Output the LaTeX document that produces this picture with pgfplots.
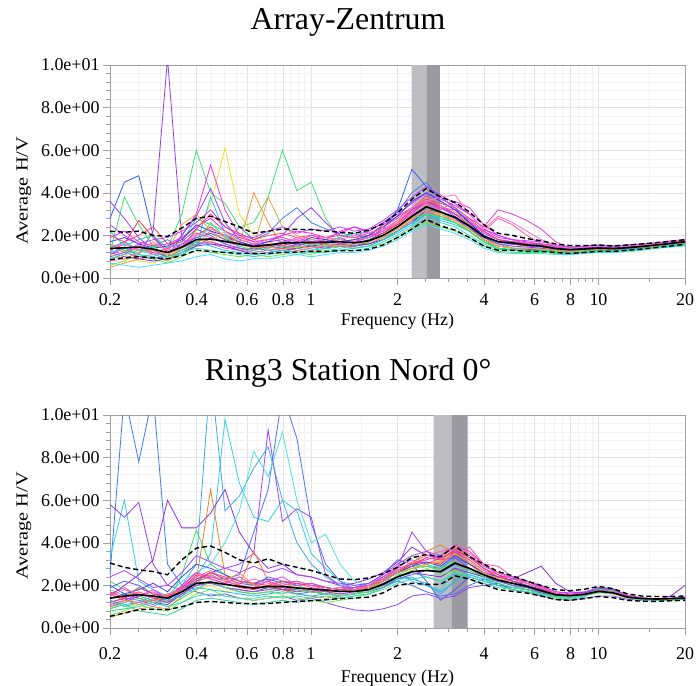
\documentclass[border=0pt]{standalone}
\usepackage{pgfplots}
\pgfplotsset{compat=1.18}
\usepackage{pgfplotstable}
\usepackage{graphicx}
\usepackage{fontspec}
\setmainfont{Liberation Serif}

\definecolor{cA1}{HTML}{9040F0}\definecolor{cA2}{HTML}{40E070}\definecolor{cA3}{HTML}{E8E020}
\definecolor{cA4}{HTML}{FF30E0}\definecolor{cA5}{HTML}{3060FF}\definecolor{cA6}{HTML}{20C8E8}
\definecolor{cA7}{HTML}{FF8A30}\definecolor{cA8}{HTML}{FF3050}\definecolor{cA9}{HTML}{A040FF}
\definecolor{cA10}{HTML}{E040C0}\definecolor{cA11}{HTML}{60F040}\definecolor{cA12}{HTML}{4080E0}
\definecolor{cA13}{HTML}{FF60A0}\definecolor{cA14}{HTML}{20D0B0}\definecolor{cA15}{HTML}{7030E0}
\definecolor{cA16}{HTML}{FF20FF}\definecolor{cA17}{HTML}{40E0FF}\definecolor{cA18}{HTML}{F0A040}
\definecolor{cA19}{HTML}{FF40F0}\definecolor{cA20}{HTML}{8050FF}\definecolor{cA21}{HTML}{2040FF}
\definecolor{cA22}{HTML}{00D8F0}\definecolor{cA23}{HTML}{30E850}\definecolor{cA24}{HTML}{FF4070}
\definecolor{cA25}{HTML}{FFA030}\definecolor{cA26}{HTML}{C040FF}\definecolor{cA27}{HTML}{40D8C0}
\definecolor{cA28}{HTML}{FF70D0}
\definecolor{cB1}{HTML}{3A7FF0}\definecolor{cB2}{HTML}{30D0E8}\definecolor{cB3}{HTML}{9040F0}
\definecolor{cB4}{HTML}{8A30E8}\definecolor{cB5}{HTML}{A040FF}\definecolor{cB6}{HTML}{4F70F0}
\definecolor{cB7}{HTML}{40A8F0}\definecolor{cB8}{HTML}{50E0E0}\definecolor{cB9}{HTML}{F08030}
\definecolor{cB10}{HTML}{40E060}\definecolor{cB11}{HTML}{E8E030}\definecolor{cB12}{HTML}{FF30E0}
\definecolor{cB13}{HTML}{FF5090}\definecolor{cB14}{HTML}{7A30D0}\definecolor{cB15}{HTML}{30D0A0}
\definecolor{cB16}{HTML}{FF3050}\definecolor{cB17}{HTML}{70F040}\definecolor{cB18}{HTML}{5060E8}
\definecolor{cB19}{HTML}{F040E0}\definecolor{cB20}{HTML}{9050F0}\definecolor{cB21}{HTML}{3050F0}
\definecolor{cB22}{HTML}{20C0E0}\definecolor{cB23}{HTML}{50E070}\definecolor{cB24}{HTML}{FF4060}
\definecolor{cB25}{HTML}{FF9040}\definecolor{cB26}{HTML}{B040FF}\definecolor{cB27}{HTML}{30D8C0}
\definecolor{cB28}{HTML}{FF60B0}
\definecolor{bandlight}{RGB}{190,190,194}
\definecolor{banddark}{RGB}{155,154,160}
\definecolor{framegray}{RGB}{160,160,160}

\pgfplotstableread{
name k0 k1 k2 k3 k4 k5 k6 k7 k8 k9 k10 k11 k12 k13 k14 k15 k16 k17 k18 k19 k20 k21 k22 k23 k24 k25 k26 k27 k28 k29 k30 k31 k32 k33 k34 k35 k36 k37 k38 k39 k40
f 0.2 0.2244 0.2518 0.2825 0.3170 0.3557 0.3991 0.4477 0.5024 0.5637 0.6325  0.7096 0.7962 0.8934 1.0024 1.1247 1.2619 1.4159 1.5887 1.7825 2.0  2.2440 2.5179 2.8251 3.1698 3.5566 3.9905 4.4774 5.0238 5.6368 6.3246  7.0963 7.9621 8.9337 10.024 11.247 12.619 14.159 15.887 17.825 20.0
M 1.38 1.42 1.45 1.35 1.20 1.45 1.80 1.83 1.72 1.60 1.48  1.55 1.64 1.66 1.67 1.68 1.70 1.65 1.75 2.00 2.40  2.90 3.35 3.10 2.85 2.45 1.95 1.70 1.65 1.55 1.50  1.38 1.33 1.36 1.40 1.38 1.42 1.48 1.55 1.62 1.70
U 2.20 2.15 2.20 2.00 1.95 2.35 2.80 2.90 2.65 2.40 2.10  2.20 2.30 2.28 2.27 2.20 2.15 2.10 2.25 2.55 3.05  3.70 4.20 3.80 3.55 3.10 2.50 2.10 2.00 1.85 1.75  1.60 1.52 1.52 1.55 1.50 1.55 1.60 1.66 1.72 1.80
L 0.86 0.95 1.00 0.95 0.90 1.05 1.30 1.25 1.20 1.15 1.15  1.15 1.20 1.22 1.25 1.25 1.28 1.28 1.35 1.55 1.90  2.30 2.75 2.45 2.25 1.90 1.50 1.30 1.30 1.25 1.25  1.20 1.15 1.20 1.25 1.25 1.30 1.36 1.43 1.50 1.58
A1 1.6 1.3 1.1 2.2 10.3 1.8 1.5 1.9 1.6 1.4 1.3  1.5 1.7 1.8 1.6 1.7 1.9 1.6 1.8 2.1 2.6  3.2 3.6 3.3 2.9 2.4 1.9 1.6 1.6 1.5 1.45  1.35 1.3 1.35 1.4 1.35 1.4 1.45 1.55 1.6 1.7
A2 1.2 3.8 2.5 1.5 1.4 3.0 6.0 4.0 3.5 2.4 2.6  3.8 6.0 4.1 4.5 2.8 1.8 1.7 1.6 1.9 2.2  2.6 3.0 2.8 2.6 2.2 1.7 1.4 1.3 1.3 1.35  1.25 1.2 1.25 1.3 1.3 1.35 1.4 1.5 1.55 1.65
A3 0.9 1.1 0.8 0.7 1.0 1.4 2.2 3.5 6.1 3.0 2.0  1.7 1.5 1.4 1.5 1.5 1.6 1.5 1.7 2.0 2.3  2.9 3.3 2.9 2.6 2.3 1.8 1.5 1.5 1.4 1.4  1.3 1.25 1.3 1.35 1.35 1.4 1.45 1.5 1.6 1.65
A4 1.5 1.2 1.6 1.1 1.3 2.0 3.0 5.3 3.2 2.0 1.7  1.8 1.9 1.7 2.0 1.8 2.2 2.4 2.1 2.3 2.5  3.0 3.6 3.2 3.6 3.3 2.5 2.0 1.8 1.6 1.5  1.4 1.3 1.35 1.45 1.4 1.45 1.5 1.6 1.65 1.75
A5 2.8 4.5 4.8 2.0 1.2 1.6 1.9 1.7 1.5 1.3 1.4  1.3 1.4 1.5 1.7 1.6 1.6 1.7 1.9 2.3 3.2  5.1 4.3 3.8 3.3 2.6 2.2 1.8 1.7 1.6 1.55  1.45 1.4 1.45 1.5 1.45 1.5 1.55 1.6 1.65 1.7
A6 1.0 0.9 1.2 1.4 0.9 1.1 1.5 3.8 2.1 1.4 1.2  1.3 1.2 1.4 1.3 1.5 1.4 1.5 1.6 1.8 2.1  2.5 3.0 2.7 2.5 2.2 1.7 1.4 1.3 1.3 1.3  1.2 1.2 1.25 1.3 1.3 1.35 1.4 1.5 1.55 1.6
A7 0.5 0.7 0.9 1.0 0.8 1.2 1.6 2.2 1.8 1.6 4.0  2.6 1.5 1.3 1.2 1.4 1.5 1.4 1.5 1.8 2.2  2.7 3.4 3.0 2.7 2.3 1.8 1.4 1.3 1.3 1.3  1.2 1.15 1.2 1.3 1.3 1.35 1.4 1.5 1.6 1.65
A8 1.3 1.6 2.7 1.9 1.2 1.5 2.0 2.4 1.9 1.7 1.5  1.6 1.5 1.7 1.6 1.8 1.7 1.8 1.9 2.1 2.5  3.1 3.6 3.4 3.0 2.6 2.0 1.7 1.6 1.5 1.5  1.4 1.35 1.4 1.45 1.4 1.45 1.5 1.55 1.65 1.7
A9 3.6 2.8 1.9 1.3 1.0 2.0 2.9 4.2 2.6 1.8 1.6  1.7 2.0 2.8 3.3 2.6 2.0 1.9 2.0 2.5 2.9  3.3 3.8 3.4 3.0 2.5 2.0 1.7 1.6 1.55 1.5  1.4 1.35 1.4 1.45 1.4 1.45 1.5 1.55 1.6 1.7
A10 1.1 1.4 1.3 1.2 1.0 1.3 1.6 1.7 1.5 1.4 1.3  1.5 1.6 1.5 1.7 1.6 1.8 1.7 2.0 2.2 2.6  3.2 3.9 3.3 3.0 2.8 2.4 3.2 3.0 2.7 2.3  1.7 1.4 1.4 1.45 1.4 1.5 1.55 1.6 1.65 1.75
A11 0.6 0.8 1.1 0.9 0.7 1.0 1.3 1.2 1.1 1.0 1.1  1.0 1.1 1.2 1.1 1.3 1.3 1.4 1.5 1.6 1.9  2.3 2.6 2.4 2.2 1.9 1.5 1.25 1.2 1.2 1.2  1.15 1.1 1.15 1.2 1.2 1.25 1.3 1.4 1.45 1.55
A12 1.4 1.7 1.3 1.5 1.8 1.4 2.3 2.0 1.6 2.4 1.8  2.1 2.8 3.3 2.6 2.3 2.1 2.0 2.2 2.6 3.1  4.0 4.5 3.6 3.2 2.7 2.1 1.8 1.7 1.6 1.6  1.5 1.45 1.5 1.55 1.5 1.55 1.6 1.65 1.7 1.75
A13 0.8 0.9 1.0 1.1 1.2 1.4 1.7 1.6 1.4 1.3 1.2  1.3 1.4 1.3 1.4 1.5 1.6 1.5 1.6 1.9 2.3  2.7 3.1 2.9 2.7 2.6 2.2 2.8 2.5 2.0 1.6  1.3 1.25 1.3 1.35 1.35 1.4 1.45 1.5 1.6 1.7
A14 2.2 1.5 1.8 2.0 1.4 1.7 2.8 2.5 2.2 1.8 1.6  1.4 1.7 1.6 1.8 1.7 1.9 2.1 1.8 2.0 2.4  2.8 3.2 3.0 2.8 2.4 1.9 1.6 1.4 1.4 1.35  1.25 1.25 1.3 1.35 1.35 1.4 1.45 1.55 1.6 1.65
A15 1.2 1.0 0.9 0.8 0.9 1.2 1.5 1.6 1.5 1.3 1.1  1.2 1.3 1.4 1.5 1.6 1.5 1.5 1.6 1.8 2.2  2.6 3.2 3.1 2.8 2.4 1.8 1.5 1.4 1.35 1.3  1.2 1.15 1.2 1.3 1.3 1.35 1.4 1.5 1.55 1.6
A16 1.9 2.2 1.7 1.5 1.6 1.9 2.4 2.8 2.2 1.9 1.7  1.8 2.0 2.2 2.1 1.9 2.1 2.4 2.2 2.6 3.0  3.5 4.0 3.7 3.4 3.0 2.3 1.9 1.8 1.7 1.6  1.5 1.4 1.45 1.5 1.45 1.5 1.55 1.6 1.7 1.8
A17 0.7 0.6 0.5 0.6 0.7 0.8 1.0 1.1 0.9 0.8 0.9  0.9 1.0 1.1 1.0 1.1 1.2 1.2 1.3 1.5 1.8  2.2 2.5 2.3 2.1 1.8 1.4 1.2 1.15 1.15 1.15  1.1 1.1 1.15 1.2 1.2 1.25 1.3 1.4 1.45 1.5
A18 1.6 1.2 1.4 1.6 1.3 2.5 3.0 2.2 1.8 2.0 1.5  3.8 2.4 2.0 1.8 1.9 1.7 1.8 1.9 2.2 2.6  3.3 3.8 3.4 3.1 2.5 1.9 1.5 1.4 1.4 1.4  1.3 1.3 1.35 1.4 1.4 1.45 1.5 1.55 1.6 1.7
A19 1.3 1.1 1.5 1.2 1.4 1.6 2.1 1.9 1.7 1.5 1.6  1.4 1.6 1.9 1.7 1.8 1.6 1.7 1.9 2.2 2.7  3.1 3.5 3.3 3.2 2.7 2.1 1.8 1.6 1.6 1.5  1.45 1.35 1.4 1.5 1.45 1.5 1.5 1.6 1.7 1.75
A20 1.0 1.2 1.0 0.9 1.1 1.5 1.9 2.1 1.8 1.6 1.4  1.5 1.4 1.6 1.5 1.4 1.6 1.5 1.7 2.0 2.4  2.8 3.3 3.1 2.8 2.3 1.9 1.6 1.5 1.45 1.4  1.3 1.3 1.3 1.35 1.35 1.4 1.45 1.5 1.6 1.65
A21 1.7 1.9 1.6 1.4 1.5 1.8 2.5 2.2 2.0 1.7 1.5  1.7 1.8 1.6 1.9 1.8 1.7 1.8 2.0 2.4 2.9  3.6 4.0 3.6 3.2 2.6 2.0 1.7 1.6 1.55 1.5  1.4 1.35 1.4 1.45 1.45 1.45 1.5 1.55 1.65 1.7
A22 1.2 1.4 1.1 1.0 1.2 1.3 1.7 1.5 1.3 1.2 1.1  1.2 1.3 1.2 1.3 1.4 1.3 1.4 1.5 1.8 2.2  2.6 3.0 2.8 2.6 2.2 1.7 1.4 1.35 1.3 1.3  1.25 1.2 1.25 1.3 1.3 1.35 1.4 1.45 1.55 1.6
A23 1.5 1.3 1.2 1.5 1.0 1.2 1.6 2.6 1.9 1.5 1.3  1.4 1.5 1.4 1.6 1.5 1.5 1.6 1.7 2.0 2.4  2.8 3.0 2.9 2.6 2.2 1.7 1.4 1.3 1.3 1.3  1.25 1.2 1.25 1.3 1.3 1.3 1.35 1.45 1.5 1.6
A24 2.0 1.7 2.0 2.4 1.6 1.7 2.3 3.0 2.4 2.1 1.8  2.0 2.1 1.9 2.0 1.9 2.0 1.9 2.1 2.4 2.8  3.3 3.7 3.5 3.3 2.8 2.2 1.8 1.7 1.65 1.6  1.5 1.4 1.45 1.5 1.5 1.5 1.55 1.6 1.7 1.75
A25 1.1 0.9 1.2 1.3 1.1 1.4 1.8 1.7 2.2 1.6 1.4  1.5 1.3 1.5 1.4 1.6 1.5 1.6 1.7 1.9 2.3  2.8 3.2 3.0 2.7 2.3 1.8 1.5 1.4 1.4 1.35  1.3 1.25 1.3 1.35 1.35 1.4 1.45 1.5 1.6 1.65
A26 2.5 2.0 1.6 1.8 1.9 2.2 2.6 3.2 2.4 2.0 1.9  2.2 2.4 2.1 2.3 2.2 2.4 2.2 2.3 2.7 3.2  3.8 4.3 3.9 3.5 3.0 2.3 2.0 1.8 1.75 1.7  1.55 1.45 1.5 1.55 1.5 1.55 1.6 1.65 1.75 1.8
A27 0.9 1.1 1.3 1.1 0.9 1.2 1.4 1.3 1.2 1.1 1.0  1.1 1.2 1.1 1.2 1.2 1.3 1.3 1.4 1.7 2.0  2.4 2.8 2.6 2.4 2.0 1.6 1.35 1.3 1.25 1.25  1.2 1.15 1.2 1.25 1.25 1.3 1.35 1.45 1.5 1.55
A28 1.4 1.6 1.3 1.7 1.3 1.5 2.0 2.3 2.0 1.8 1.6  1.8 1.7 1.8 1.7 1.9 1.8 2.0 2.1 2.3 2.7  3.3 3.6 3.8 3.9 3.0 2.3 2.9 2.6 2.2 1.8  1.5 1.4 1.45 1.5 1.45 1.5 1.55 1.6 1.7 1.8
}\rawA

\pgfplotstableread{
name k0 k1 k2 k3 k4 k5 k6 k7 k8 k9 k10 k11 k12 k13 k14 k15 k16 k17 k18 k19 k20 k21 k22 k23 k24 k25 k26 k27 k28 k29 k30 k31 k32 k33 k34 k35 k36 k37 k38 k39 k40
f 0.2 0.2244 0.2518 0.2825 0.3170 0.3557 0.3991 0.4477 0.5024 0.5637 0.6325  0.7096 0.7962 0.8934 1.0024 1.1247 1.2619 1.4159 1.5887 1.7825 2.0  2.2440 2.5179 2.8251 3.1698 3.5566 3.9905 4.4774 5.0238 5.6368 6.3246  7.0963 7.9621 8.9337 10.024 11.247 12.619 14.159 15.887 17.825 20.0
M 1.40 1.50 1.56 1.50 1.40 1.70 2.10 2.15 2.05 1.95 1.87  1.95 1.95 1.88 1.83 1.78 1.72 1.72 1.80 2.05 2.40  2.65 2.70 2.65 3.05 2.80 2.50 2.25 2.10 1.95 1.75  1.56 1.52 1.58 1.72 1.65 1.45 1.38 1.36 1.38 1.40
U 3.05 2.85 2.73 2.65 2.50 3.20 3.75 3.85 3.55 3.20 3.05  3.25 3.00 2.85 2.70 2.50 2.30 2.27 2.35 2.55 2.85  3.30 3.45 3.35 3.85 3.35 3.00 2.65 2.45 2.20 2.00  1.80 1.75 1.82 1.95 1.85 1.60 1.50 1.48 1.48 1.50
L 0.55 0.70 0.86 0.88 0.86 1.00 1.20 1.25 1.20 1.15 1.14  1.15 1.20 1.25 1.28 1.33 1.38 1.40 1.45 1.65 2.00  2.10 2.05 2.05 2.45 2.30 2.05 1.80 1.72 1.64 1.50  1.33 1.30 1.38 1.48 1.42 1.30 1.26 1.25 1.28 1.30
B1 2.5 11 7.8 11 3.0 2.0 1.8 2.2 1.9 1.7 1.6  1.7 1.8 1.6 1.7 1.6 1.8 1.9 2.0 2.3 2.7  3.0 2.9 2.8 3.3 3.0 2.6 2.3 2.1 1.9 1.7  1.5 1.5 1.6 1.8 1.7 1.45 1.35 1.35 1.38 1.4
B2 3.3 6.0 2.2 1.8 1.5 1.9 2.4 3.5 9.8 6.8 5.2  5.0 6.0 5.5 3.5 2.8 2.2 2.0 2.1 2.4 2.6  2.2 2.0 1.8 2.6 2.5 2.3 2.0 1.9 1.8 1.65  1.5 1.45 1.55 1.9 1.85 1.5 1.4 1.35 1.35 1.38
B3 5.8 5.2 5.9 3.0 2.0 1.8 1.7 1.5 1.6 1.4 1.3  1.4 1.5 1.3 1.4 1.2 1.0 0.85 0.8 0.9 1.1  1.5 1.6 1.4 1.5 1.9 2.0 2.1 1.8 1.7 1.5  1.35 1.3 1.4 1.5 1.5 1.35 1.3 1.3 1.32 1.35
B4 1.5 2.0 2.5 3.2 6.0 4.7 4.7 5.4 6.5 4.5 3.5  2.8 3.0 2.5 2.4 2.2 2.0 2.1 2.3 2.6 3.1  3.8 3.4 3.3 3.6 3.0 2.6 2.4 2.4 2.2 1.9  1.6 1.5 1.6 1.8 1.7 1.45 1.38 1.36 1.4 1.45
B5 1.2 1.4 1.3 1.1 1.5 1.9 2.3 2.6 2.8 3.0 3.5  9.3 5.0 5.6 5.2 2.5 2.0 1.8 2.0 2.3 2.8  4.5 3.6 3.2 3.3 2.8 2.4 2.2 2.1 2.0 1.8  1.55 1.5 1.55 1.7 1.65 1.45 1.38 1.35 1.38 1.42
B6 1.0 1.2 1.5 1.3 1.2 1.7 2.2 2.4 2.3 2.5 4.5  6.5 11 8.9 4.9 3.0 2.2 1.8 1.9 2.0 2.2  2.0 1.7 1.5 1.6 2.0 2.3 2.2 2.0 1.9 1.8  1.6 1.5 1.6 1.75 1.7 1.45 1.35 1.35 1.37 1.4
B7 1.3 1.1 1.2 1.0 1.4 2.0 3.0 12 5.5 6.2 7.5  8.5 6.0 4.0 3.0 2.4 2.0 1.9 2.0 2.2 2.4  2.3 2.1 1.6 2.2 2.8 2.5 2.2 2.0 1.8 1.7  1.5 1.45 1.55 1.75 1.7 1.45 1.35 1.33 1.35 1.38
B8 1.8 1.5 1.9 1.6 1.5 2.2 2.6 3.0 4.0 5.5 8.3  7.1 9.2 6.0 4.0 4.4 3.0 2.2 2.0 2.4 2.6  2.8 3.0 2.6 2.9 2.6 2.4 2.2 2.0 1.8 1.65  1.5 1.5 1.6 1.8 1.75 1.5 1.4 1.36 1.36 1.4
B9 0.5 0.7 0.9 1.0 0.9 1.5 2.2 6.5 2.5 2.0 3.6  2.2 1.8 1.6 1.5 1.4 1.5 1.6 1.9 2.3 2.6  3.0 3.6 3.9 3.5 3.0 2.5 2.3 2.1 1.9 1.7  1.5 1.45 1.55 1.7 1.65 1.45 1.35 1.32 1.34 1.38
B10 2.2 1.8 1.5 1.3 1.2 2.5 4.6 3.0 2.5 2.2 2.0  1.8 1.9 2.0 1.8 1.6 1.5 1.6 1.8 2.2 2.8  3.4 3.0 2.8 3.1 2.7 2.4 2.2 2.0 1.9 1.75  1.55 1.5 1.6 1.85 1.8 1.5 1.38 1.35 1.36 1.4
B11 0.8 0.9 1.2 1.5 1.2 1.4 1.8 2.0 1.7 1.8 1.6  1.7 1.9 1.8 1.7 1.6 1.7 1.8 1.9 2.1 2.4  2.7 3.0 3.2 3.9 3.2 2.6 2.3 2.1 1.9 1.7  1.5 1.5 1.55 1.7 1.65 1.45 1.35 1.33 1.35 1.38
B12 1.0 1.3 1.5 1.8 1.4 1.9 2.6 2.4 2.2 2.0 1.9  2.2 2.0 2.1 1.9 1.8 1.9 1.9 2.0 2.4 2.8  3.0 3.2 3.4 3.9 3.6 3.0 2.5 2.3 2.2 2.0  1.7 1.6 1.65 1.8 1.75 1.5 1.4 1.36 1.38 1.42
B13 1.6 1.3 1.2 1.3 1.5 1.8 2.3 2.5 2.2 2.0 1.9  2.0 1.8 1.9 1.7 1.8 1.7 1.8 1.9 2.2 2.6  2.9 3.3 3.2 3.4 3.8 3.0 2.9 2.4 2.1 1.9  1.6 1.5 1.55 1.7 1.65 1.5 1.4 1.35 1.37 1.4
B14 1.4 1.6 1.4 1.2 1.1 1.6 2.0 2.2 1.9 1.8 1.7  1.9 1.8 1.8 1.7 1.6 1.6 1.7 1.8 2.1 2.4  2.6 2.5 2.4 2.8 2.6 2.4 2.2 2.3 2.6 2.9  2.1 1.7 1.65 1.85 1.8 1.5 1.38 1.34 1.5 2.0
B15 0.9 1.1 0.8 0.7 0.6 0.9 1.3 1.4 1.3 1.2 1.1  1.2 1.3 1.2 1.3 1.3 1.4 1.5 1.6 1.9 2.2  2.6 2.4 2.2 2.5 2.3 2.1 1.9 1.8 1.7 1.6  1.4 1.35 1.45 1.9 1.85 1.5 1.35 1.3 1.32 1.35
B16 1.2 1.4 1.7 1.4 1.3 1.8 2.5 2.3 2.1 1.9 1.8  2.0 1.8 1.7 1.8 1.7 1.8 1.7 1.9 2.2 2.6  3.0 3.1 3.0 3.6 3.4 2.8 2.5 2.2 2.0 1.8  1.6 1.5 1.6 1.75 1.7 1.5 1.4 1.35 1.37 1.42
B17 0.6 0.8 1.1 0.9 0.8 1.2 1.6 1.8 1.5 1.4 1.3  1.4 1.5 1.4 1.3 1.2 1.3 1.4 1.6 1.9 2.4  3.0 2.8 2.5 2.7 2.4 2.2 2.0 1.8 1.7 1.55  1.4 1.4 1.5 1.65 1.6 1.4 1.32 1.3 1.3 1.35
B18 1.9 2.2 2.0 1.6 1.4 1.8 2.2 2.6 2.3 2.1 2.0  2.4 2.2 2.0 2.1 1.9 1.8 1.9 2.1 2.5 3.2  3.0 2.2 1.3 1.8 2.4 2.2 2.0 1.9 1.8 1.65  1.5 1.45 1.55 1.7 1.65 1.45 1.35 1.33 1.35 1.38
B19 1.6 1.9 1.5 1.7 1.4 2.0 2.6 2.3 2.1 2.4 2.0  2.2 2.4 2.0 2.1 1.9 1.8 1.9 2.0 2.4 2.9  3.2 3.0 3.3 3.6 3.2 2.7 2.4 2.2 2.0 1.8  1.6 1.55 1.6 1.8 1.7 1.5 1.4 1.37 1.38 1.42
B20 1.1 1.3 1.6 1.4 1.2 1.6 2.0 2.1 1.9 1.8 1.7  1.8 1.9 1.7 1.8 1.7 1.6 1.6 1.7 1.9 2.3  2.5 2.7 2.6 3.0 2.8 2.4 2.2 2.0 1.9 1.7  1.55 1.5 1.55 1.7 1.65 1.45 1.35 1.34 1.36 1.4
B21 2.0 1.6 1.8 2.1 1.7 2.4 3.0 2.8 2.5 2.2 2.1  2.3 2.1 2.2 2.0 1.9 1.8 1.8 1.9 2.2 2.6  2.9 3.1 2.9 3.4 3.0 2.6 2.4 2.2 2.0 1.8  1.6 1.55 1.6 1.8 1.7 1.5 1.4 1.36 1.37 1.4
B22 1.3 1.0 1.2 1.5 1.3 1.5 1.9 1.8 1.7 1.6 1.5  1.6 1.7 1.6 1.5 1.6 1.5 1.6 1.7 2.0 2.3  2.4 2.0 1.7 2.2 2.5 2.3 2.1 1.9 1.8 1.6  1.5 1.45 1.5 1.75 1.7 1.45 1.35 1.32 1.34 1.38
B23 0.9 1.2 1.4 1.2 1.0 1.4 1.8 2.2 1.9 1.7 1.6  1.7 1.6 1.8 1.7 1.6 1.5 1.6 1.7 2.0 2.5  2.8 2.9 2.7 3.1 2.8 2.4 2.1 1.9 1.8 1.6  1.5 1.45 1.55 1.8 1.75 1.45 1.35 1.3 1.32 1.36
B24 1.7 1.4 1.9 1.6 1.5 1.9 2.3 2.6 2.4 2.2 2.1  2.0 2.2 2.1 2.0 1.9 1.8 1.8 2.0 2.3 2.7  3.0 3.3 3.2 3.7 3.3 2.8 2.4 2.2 2.1 1.85  1.6 1.55 1.6 1.75 1.7 1.5 1.4 1.36 1.38 1.42
B25 1.0 1.3 1.1 1.2 1.6 1.7 2.1 2.5 2.2 2.6 2.0  1.9 2.1 1.9 1.8 1.8 1.7 1.8 1.9 2.2 2.6  2.8 3.0 3.1 3.5 3.1 2.6 2.3 2.1 1.95 1.75  1.55 1.5 1.55 1.7 1.65 1.45 1.35 1.33 1.35 1.38
B26 2.4 2.7 2.3 1.9 2.0 2.6 3.4 3.1 2.8 2.6 2.9  2.6 2.8 2.5 2.4 2.2 2.1 2.0 2.1 2.5 3.0  3.4 3.6 3.4 3.8 3.4 2.9 2.6 2.4 2.2 1.95  1.7 1.65 1.7 1.9 1.8 1.55 1.42 1.38 1.4 1.45
B27 0.8 0.9 1.0 1.2 1.0 1.2 1.5 1.6 1.5 1.4 1.4  1.5 1.4 1.5 1.4 1.5 1.4 1.5 1.6 1.8 2.1  2.3 2.4 2.2 2.6 2.4 2.2 2.0 1.8 1.7 1.55  1.45 1.4 1.5 1.7 1.65 1.45 1.32 1.3 1.3 1.35
B28 1.5 1.8 1.6 1.4 1.6 1.8 2.4 2.7 2.3 2.1 2.3  2.1 2.0 2.2 2.0 1.8 1.9 1.8 2.0 2.3 2.7  3.1 3.4 3.6 3.8 3.5 3.0 2.6 2.3 2.1 1.9  1.65 1.55 1.6 1.75 1.7 1.5 1.4 1.36 1.38 1.42
}\rawB

\pgfplotstabletranspose[colnames from=name]\dataA\rawA
\pgfplotstabletranspose[colnames from=name]\dataB\rawB

\tikzset{
  hvthin/.style={line width=0.8bp},
  hvmean/.style={black, line width=1.6bp},
  hvstd/.style={black, line width=1.4bp, dash pattern=on 5bp off 3bp},
}

\begin{document}
\begin{tikzpicture}
\useasboundingbox (-110bp,65bp) rectangle (586bp,-621bp);
\begin{axis}[
    xmode=log,
    scale only axis, width=575bp, height=213bp,
    at={(0,0)}, anchor=north west,
    xmin=0.2, xmax=20, ymin=0, ymax=10,
    xtick={0.2,0.4,0.6,0.8,1,2,4,6,8,10,20},
    xticklabels={0.2,0.4,0.6,0.8,1,2,4,6,8,10,20},
    minor xtick={0.25,0.3,0.35,0.45,0.5,0.55,0.65,0.7,0.75,0.85,0.9,0.95,1.5,2.5,3,3.5,4.5,5,5.5,6.5,7,7.5,8.5,9,9.5,15},
    ytick={0,2,4,6,8,10},
    yticklabels={0.0e+00,2.0e+00,4.0e+00,6.0e+00,8.0e+00,1.0e+01},
    minor y tick num=4,
    xtick pos=left, ytick pos=left,
    tick align=outside, major tick length=7bp, minor tick length=4bp,
    tick style={framegray, line width=0.6bp},
    axis line style={framegray, line width=0.8bp},
    grid=both,
    major grid style={gray!22, line width=0.5bp},
    minor grid style={gray!10, line width=0.4bp},
    tick label style={font=\fontsize{18}{21}\selectfont},
    xticklabel style={yshift=-5bp},
    xlabel={Frequency (Hz)},
    xlabel style={at={(axis description cs:0.5,-0.205)}, anchor=center, font=\fontsize{18}{21}\selectfont},
    ylabel={\scalebox{1.2}[1]{Average H/V}},
    ylabel style={at={(axis description cs:-0.15,0.41)}, anchor=center, font=\fontsize{17}{20}\selectfont},
    title={Array-Zentrum},
    title style={at={(axis description cs:0.414,1)}, anchor=base, yshift=30bp, font=\fontsize{32}{38}\selectfont},
  ]
  \addplot[fill=bandlight, draw=none] coordinates {(2.24,0) (2.24,10) (2.53,10) (2.53,0)} \closedcycle;
  \addplot[fill=banddark, draw=none] coordinates {(2.53,0) (2.53,10) (2.81,10) (2.81,0)} \closedcycle;
  \pgfplotsinvokeforeach{1,...,28}{
    \addplot[hvthin, color=cA#1] table[x=f, y=A#1] {\dataA};
  }
  \addplot[hvstd] table[x=f, y=U] {\dataA};
  \addplot[hvstd] table[x=f, y=L] {\dataA};
  \addplot[hvmean] table[x=f, y=M] {\dataA};
\end{axis}
\begin{axis}[
    xmode=log,
    scale only axis, width=575bp, height=213bp,
    at={(0,-350bp)}, anchor=north west,
    xmin=0.2, xmax=20, ymin=0, ymax=10,
    xtick={0.2,0.4,0.6,0.8,1,2,4,6,8,10,20},
    xticklabels={0.2,0.4,0.6,0.8,1,2,4,6,8,10,20},
    minor xtick={0.25,0.3,0.35,0.45,0.5,0.55,0.65,0.7,0.75,0.85,0.9,0.95,1.5,2.5,3,3.5,4.5,5,5.5,6.5,7,7.5,8.5,9,9.5,15},
    ytick={0,2,4,6,8,10},
    yticklabels={0.0e+00,2.0e+00,4.0e+00,6.0e+00,8.0e+00,1.0e+01},
    minor y tick num=4,
    xtick pos=left, ytick pos=left,
    tick align=outside, major tick length=7bp, minor tick length=4bp,
    tick style={framegray, line width=0.6bp},
    axis line style={framegray, line width=0.8bp},
    grid=both,
    major grid style={gray!22, line width=0.5bp},
    minor grid style={gray!10, line width=0.4bp},
    tick label style={font=\fontsize{18}{21}\selectfont},
    xticklabel style={yshift=-9bp},
    xlabel={Frequency (Hz)},
    xlabel style={at={(axis description cs:0.5,-0.235)}, anchor=center, font=\fontsize{18}{21}\selectfont},
    ylabel={\scalebox{1.2}[1]{Average H/V}},
    ylabel style={at={(axis description cs:-0.15,0.48)}, anchor=center, font=\fontsize{17}{20}\selectfont},
    title={Ring3 Station Nord 0°},
    title style={at={(axis description cs:0.414,1)}, anchor=base, yshift=29bp, font=\fontsize{32}{38}\selectfont},
  ]
  \addplot[fill=bandlight, draw=none] coordinates {(2.67,0) (2.67,10) (3.09,10) (3.09,0)} \closedcycle;
  \addplot[fill=banddark, draw=none] coordinates {(3.09,0) (3.09,10) (3.51,10) (3.51,0)} \closedcycle;
  \pgfplotsinvokeforeach{1,...,28}{
    \addplot[hvthin, color=cB#1] table[x=f, y=B#1] {\dataB};
  }
  \addplot[hvstd] table[x=f, y=U] {\dataB};
  \addplot[hvstd] table[x=f, y=L] {\dataB};
  \addplot[hvmean] table[x=f, y=M] {\dataB};
\end{axis}
\end{tikzpicture}
\end{document}
